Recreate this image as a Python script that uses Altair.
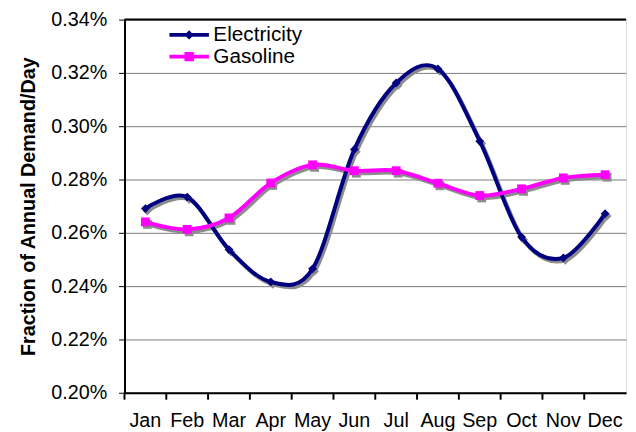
import altair as alt
import pandas as pd

months = ["Jan", "Feb", "Mar", "Apr", "May", "Jun", "Jul", "Aug", "Sep", "Oct", "Nov", "Dec"]
series_names = ["Electricity", "Gasoline"]
electricity = [0.002691, 0.002734, 0.002537, 0.002416, 0.002465, 0.002913,
               0.003162, 0.003215, 0.002944, 0.002584, 0.002506, 0.002672]
gasoline = [0.002641, 0.002613, 0.002656, 0.002787, 0.002855, 0.002833,
            0.002833, 0.002786, 0.002740, 0.002765, 0.002806, 0.002818]
y_ticks = [0.0020, 0.0022, 0.0024, 0.0026, 0.0028, 0.0030, 0.0032, 0.0034]
y_title = "Fraction of Annual Demand/Day"

rows = []
for name, vals in zip(series_names, [electricity, gasoline]):
    for m, v in zip(months, vals):
        rows.append({"month": m, "series": name, "value": v})
df = pd.DataFrame(rows)

FONT = "Liberation Sans"
FS = 20
W, H = 508, 378

x_scale = alt.Scale(type="band", paddingInner=0, paddingOuter=0)
x_axis = alt.Axis(title=None, labelAngle=0, ticks=False,
                  domainColor="black", domainWidth=2, grid=False,
                  labelFont=FONT, labelFontSize=FS, labelColor="black", labelPadding=18)
x_enc = alt.X("month:N", sort=months, scale=x_scale, axis=x_axis)
y_scale = alt.Scale(domain=[y_ticks[0], y_ticks[-1]], nice=False, zero=False)
y_enc = alt.Y(
    "value:Q", scale=y_scale,
    axis=alt.Axis(values=y_ticks, format=".2%", title=y_title,
                  titleFont=FONT, titleFontSize=FS, titleFontWeight="bold", titleColor="black",
                  titlePadding=12,
                  labelFont=FONT, labelFontSize=FS, labelColor="black", labelPadding=12,
                  tickSize=6, tickColor="black", domainColor="black", domainWidth=2,
                  grid=True, gridColor="#7a7a7a", gridWidth=1),
)

line_path_e = "M-4,-0.4L4,-0.4L4,0.4L-4,0.4Z M0,-0.95L0.95,0L0,0.95L-0.95,0Z"
line_path_g = "M-4,-0.4L4,-0.4L4,0.4L-4,0.4Z M-0.95,-0.95L0.95,-0.95L0.95,0.95L-0.95,0.95Z"

color_scale = alt.Scale(domain=series_names, range=["#000080", "#FF00FF"])
marker_shape = alt.Shape("series:N", scale=alt.Scale(domain=series_names, range=["diamond", "square"]),
                         legend=None)

base = alt.Chart(df)

shadow_line = base.mark_line(interpolate="cardinal", color="#8c8c8c", strokeWidth=4,
                             xOffset=2, yOffset=2.5).encode(x=x_enc, y=y_enc, detail="series:N")
shadow_pts = base.mark_point(filled=True, color="#8c8c8c", opacity=1, size=80,
                             xOffset=2, yOffset=2.5).encode(x=x_enc, y=y_enc, shape=marker_shape)
main_line = base.mark_line(interpolate="cardinal", strokeWidth=4).encode(
    x=x_enc, y=y_enc, color=alt.Color("series:N", scale=color_scale, legend=None))
main_pts = base.mark_point(filled=True, opacity=1, size=80).encode(
    x=x_enc, y=y_enc, color=alt.Color("series:N", scale=color_scale, legend=None), shape=marker_shape)

legend_layer = base.transform_filter("false").mark_point(filled=True, opacity=1).encode(
    x=x_enc, y=y_enc,
    color=alt.Color("series:N", scale=color_scale,
                    legend=alt.Legend(title=None, orient="none", legendX=55, legendY=5,
                                      symbolSize=100, symbolStrokeWidth=0, symbolOpacity=1,
                                      labelFont=FONT, labelFontSize=21, labelColor="black",
                                      labelOffset=14, rowPadding=0)),
    shape=alt.Shape("series:N", scale=alt.Scale(domain=series_names, range=[line_path_e, line_path_g]),
                    legend=None),
)

# category-boundary tick marks below the x axis (Excel style)
tick_marks = alt.Chart(pd.DataFrame({"month": months})).mark_rule(
    color="black", strokeWidth=2, clip=False, opacity=1).encode(
    x=alt.X("month:N", sort=months, scale=x_scale, axis=x_axis, bandPosition=0),
    y=alt.value(H), y2=alt.value(H + 7))

top_rule = alt.Chart(pd.DataFrame({"v": [y_ticks[-1]]})).mark_rule(color="black", strokeWidth=2).encode(
    y=alt.Y("v:Q", scale=y_scale))

chart = alt.layer(shadow_line, shadow_pts, main_line, main_pts, legend_layer, tick_marks, top_rule
).resolve_scale(
    shape="independent", color="independent"
).properties(
    width=W, height=H,
    autosize=alt.AutoSizeParams(type="none"),
    padding={"left": 118, "top": 9, "right": 2, "bottom": 36},
).configure_view(stroke=None).configure(background="white")

chart.save("out.html", embed_options={"renderer": "svg", "actions": False})
